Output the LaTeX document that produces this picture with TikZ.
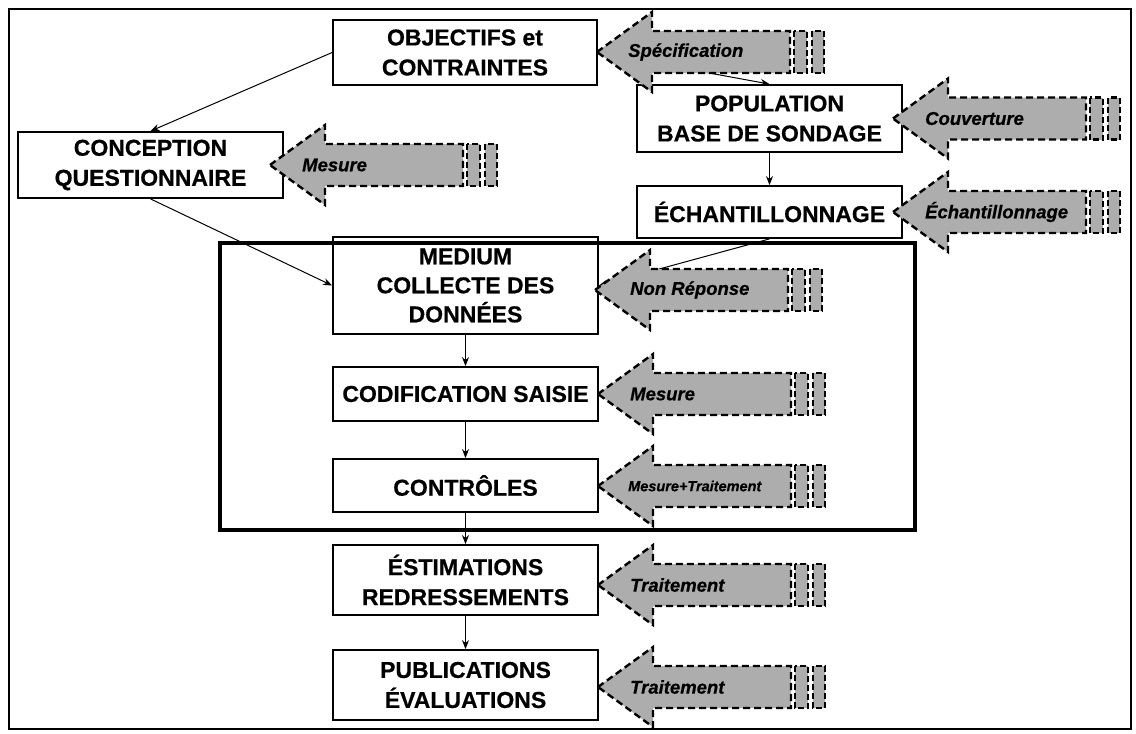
\documentclass[tikz,border=0pt]{standalone}
\usepackage{fontspec}
\setmainfont{Liberation Sans}[BoldFeatures={FakeBold=0.6}, BoldItalicFeatures={FakeBold=0.6}]
\usetikzlibrary{arrows.meta}

\definecolor{errgray}{gray}{0.68}

\tikzset{
  box/.style={draw=black, line width=1.8pt, fill=white, align=center, inner sep=0pt,
              font=\fontsize{23}{30}\selectfont\bfseries},
  link/.style={line width=1pt, -{Stealth[length=9pt,width=7pt]}},
  errline/.style={draw=black, fill=errgray, line width=2.4pt, dash pattern=on 7pt off 4pt,
                  line join=miter},
  errsmall/.style={draw=black, fill=errgray, line width=2.4pt, dash pattern=on 6pt off 3pt},
  errlabel/.style={anchor=west, inner sep=0pt, font=\fontsize{18.5}{20}\selectfont\bfseries\itshape},
  errarrow/.pic={
    \path[errline] (0,0) -- (55,-40) -- (55,-21) -- (193,-21) -- (193,21)
                   -- (55,21) -- (55,40) -- cycle;
    \path[errsmall] (197,-21) rectangle (210,21);
    \path[errsmall] (215,-21) rectangle (227,21);
  }
}

\begin{document}
\begin{tikzpicture}[x=1pt, y=-1pt]
  \useasboundingbox (0,0) rectangle (1136,734);
  \draw[line width=1.5pt] (9,9) rectangle (1131,729);

  % process boxes
  \node[box, minimum width=264pt, minimum height=65pt] (obj)  at (465,52.5)   {OBJECTIFS et\\CONTRAINTES};
  \node[box, minimum width=265pt, minimum height=67pt] (pop)  at (769.5,118.5) {POPULATION\\BASE DE SONDAGE};
  \node[box, minimum width=265pt, minimum height=66pt] (conc) at (150.5,165)  {CONCEPTION\\QUESTIONNAIRE};
  \node[box, minimum width=265pt, minimum height=52pt] (ech)  at (769.5,212)  {ÉCHANTILLONNAGE};
  \node[box, minimum width=265pt, minimum height=97pt,
        font=\fontsize{23}{29}\selectfont\bfseries] (med) at (465.5,285.5) {MEDIUM\\COLLECTE DES\\DONNÉES};
  \node[box, minimum width=265pt, minimum height=54pt] (cod)  at (465.5,394)  {CODIFICATION SAISIE};
  \node[box, minimum width=265pt, minimum height=53pt] (ctl)  at (465.5,485.5) {CONTRÔLES};
  \node[box, minimum width=265pt, minimum height=70pt] (est)  at (465.5,580)  {ÉSTIMATIONS\\REDRESSEMENTS};
  \node[box, minimum width=265pt, minimum height=70pt] (pub)  at (465.5,685)  {PUBLICATIONS\\ÉVALUATIONS};

  % flow connectors
  \draw[link] (obj.west) -- (conc.north);
  \draw[link] (conc.south) -- (med.west);
  \draw[link] (obj.east) -- (pop.north);
  \draw[link] (pop.south) -- (ech.north);
  \draw[link] (ech.south) -- (med.east);
  \draw[link] (med.south) -- (cod.north);
  \draw[link] (cod.south) -- (ctl.north);
  \draw[link] (ctl.south) -- (est.north);
  \draw[link] (est.south) -- (pub.north);

  % error sources
  \coordinate (tspec) at (597,52);
  \coordinate (tcouv) at (893,118.5);
  \coordinate (tmes1) at (270,165);
  \coordinate (tech)  at (893,212);
  \coordinate (tnon)  at (595,290);
  \coordinate (tmes2) at (598,394);
  \coordinate (tctl)  at (598,486);
  \coordinate (ttr1)  at (598,585);
  \coordinate (ttr2)  at (598,687);

  \foreach \t in {tspec,tcouv,tmes1,tech,tnon,tmes2,tctl,ttr1,ttr2}
    \pic at (\t) {errarrow};

  \node[errlabel] (lspec) at ([xshift=31pt]tspec) {Spécification};
  \node[errlabel] (lcouv) at ([xshift=32pt]tcouv) {Couverture};
  \node[errlabel] (lmes1) at ([xshift=32pt]tmes1) {Mesure};
  \node[errlabel] (lech)  at ([xshift=32pt]tech)  {Échantillonnage};
  \node[errlabel] (lnon)  at ([xshift=35pt]tnon)  {Non Réponse};
  \node[errlabel] (lmes2) at ([xshift=32pt]tmes2) {Mesure};
  \node[errlabel, font=\fontsize{14.5}{16}\selectfont\bfseries\itshape]
        (lctl)  at ([xshift=30pt]tctl)  {Mesure+Traitement};
  \node[errlabel] (ltr1)  at ([xshift=32pt]ttr1)  {Traitement};
  \node[errlabel] (ltr2)  at ([xshift=32pt]ttr2)  {Traitement};

  % data-collection phase frame
  \draw[line width=4pt] (220,243) rectangle (915,530);
\end{tikzpicture}
\end{document}
